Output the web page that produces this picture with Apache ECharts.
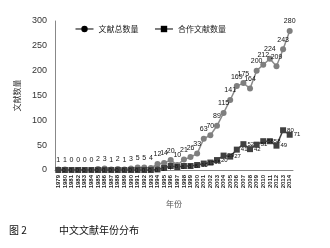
<!DOCTYPE html>
<html><head><meta charset="utf-8">
<script src="https://cdn.jsdelivr.net/npm/echarts@6/dist/echarts.min.js"></script>
<style>html,body{margin:0;padding:0;background:#fff}#c{width:330px;height:248px}</style>
</head><body><div id="c"></div>
<script>
var years = [];
for (var y = 1979; y <= 2014; y++) years.push(String(y));
var totalCounts = [1,1,0,0,0,0,2,3,1,2,1,3,5,5,4,12,14,20,10,21,26,33,63,70,89,115,141,169,175,164,200,212,224,209,243,280];
var coopCounts = [0,0,0,0,0,0,0,0,0,0,0,0,0,0,0,1,4,8,6,8,8,10,13,15,20,29,27,41,52,42,51,58,58,49,80,71];
var yTicks = [0,50,100,150,200,250,300];
var seriesNames = ['文献总数量','合作文献数量'];
var figNo = '图 2';
var caption = '中文文献年份分布';

var chart = echarts.init(document.getElementById('c'));
chart.setOption({
  animation: false,
  textStyle: {fontFamily: 'Liberation Sans, Arial, sans-serif'},
  title: [
    {text: figNo, left: 4, top: 220, textStyle: {fontSize: 10, fontWeight: 'normal', color: '#111', fontFamily: 'Noto Sans CJK SC'}},
    {text: caption, left: 54, top: 220, textStyle: {fontSize: 10, fontWeight: 'normal', color: '#111', fontFamily: 'Noto Sans CJK SC'}}
  ],
  legend: {
    top: 20, left: 70, itemGap: 16, itemWidth: 18, itemHeight: 8,
    textStyle: {fontSize: 8, color: '#222', fontFamily: 'Noto Sans CJK SC'},
    data: [
      {name: seriesNames[0], itemStyle: {color: '#000'}, lineStyle: {color: '#000', width: 1}},
      {name: seriesNames[1], itemStyle: {color: '#000'}, lineStyle: {color: '#000', width: 1}}
    ]
  },
  grid: {left: 55, right: 37, top: 21, bottom: 78},
  xAxis: {
    type: 'category', data: years, boundaryGap: true,
    name: '年份', nameLocation: 'middle', nameGap: 30,
    nameTextStyle: {fontSize: 8, color: '#555', fontFamily: 'Noto Sans CJK SC'},
    axisLine: {lineStyle: {color: '#888'}}, axisTick: {show: false},
    axisLabel: {interval: 0, rotate: 90, fontSize: 6, fontWeight: 'bold', color: '#222', margin: 5}
  },
  yAxis: {
    type: 'value', min: 0, max: 300, interval: 50,
    name: '文献数量', nameLocation: 'middle', nameGap: 30, nameRotate: 90,
    nameTextStyle: {fontSize: 8, color: '#333', fontFamily: 'Noto Sans CJK SC'},
    splitLine: {show: false}, axisTick: {show: false},
    axisLine: {show: true, lineStyle: {color: '#888'}},
    axisLabel: {fontSize: 9, color: '#333', margin: 8,
      formatter: function (v) { return yTicks.indexOf(v) >= 0 ? String(v) : ''; }}
  },
  series: [
    {name: seriesNames[0], type: 'line', data: totalCounts, symbol: 'circle', symbolSize: 6,
     itemStyle: {color: '#7f7f7f'}, lineStyle: {color: '#8c8c8c', width: 1.5},
     label: {show: true, position: 'top', distance: 3, fontSize: 7, color: '#111'}},
    {name: seriesNames[1], type: 'line', data: coopCounts, symbol: 'rect', symbolSize: 6,
     itemStyle: {color: '#404040'}, lineStyle: {color: '#404040', width: 1.5},
     label: {show: true, position: 'right', distance: 1, fontSize: 6, color: '#111'}}
  ]
});
</script></body></html>
